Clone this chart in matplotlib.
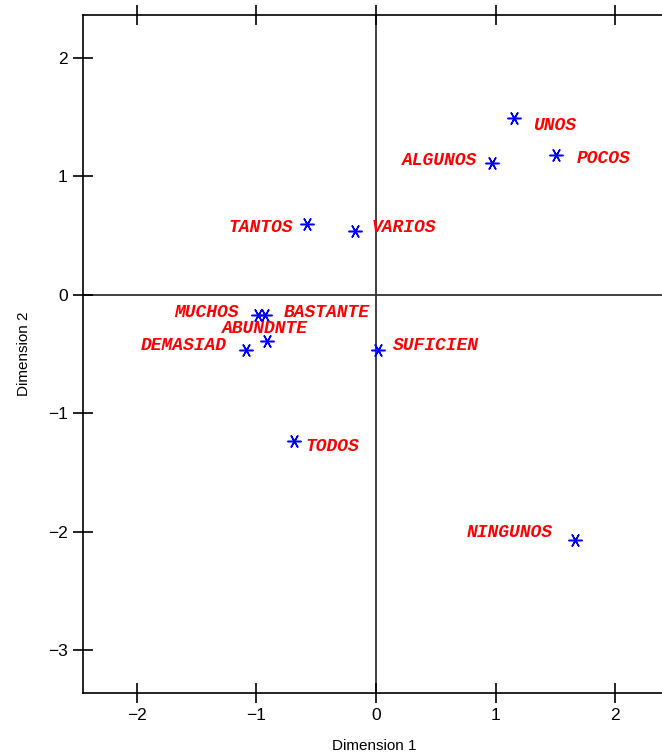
import matplotlib.pyplot as plt

# correspondence analysis coordinates for each quantifier
words = ["UNOS", "ALGUNOS", "POCOS", "TANTOS", "VARIOS", "MUCHOS",
         "BASTANTE", "ABUNDNTE", "DEMASIAD", "SUFICIEN", "TODOS", "NINGUNOS"]
dim1 = [1.15, 0.97, 1.50, -0.58, -0.18, -0.99, -0.93, -0.91, -1.09, 0.02, -0.69, 1.66]
dim2 = [1.49, 1.11, 1.18, 0.60, 0.54, -0.17, -0.17, -0.39, -0.47, -0.47, -1.23, -2.07]

# where each label sits relative to its point (pixels) and its alignment
offsets = [(19, -7), (-15, 3), (21, -4), (-14, -4), (17, 3), (-19, 2),
           (19, 2), (-2, 12), (-19, 5), (14, 5), (12, -6), (-22, 8)]
aligns = ["left", "right", "left", "right", "left", "right",
          "left", "center", "right", "left", "left", "right"]

fig = plt.figure(figsize=(6.62, 7.55), dpi=100)
ax = fig.add_axes([0.1254, 0.0821, 0.88, 0.898])

ax.axhline(0, color="#333333", lw=1.3, zorder=1)
ax.axvline(0, color="#333333", lw=1.3, zorder=1)

ax.plot(dim1, dim2, ls="none", marker=(6, 2, 90), ms=10, mew=1.1,
        color="blue", zorder=3)

for w, x, y, off, ha in zip(words, dim1, dim2, offsets, aligns):
    ax.annotate(w, (x, y), xytext=off, textcoords="offset pixels",
                ha=ha, va="center", color="red", fontsize=13,
                family="Liberation Mono", weight="bold", style="italic")

ax.set_xlim(-2.45, 2.42)
ax.set_ylim(-3.36, 2.36)
ax.set_xticks([-2, -1, 0, 1, 2])
ax.set_yticks([-3, -2, -1, 0, 1, 2])
ax.spines["right"].set_visible(False)
for s in ax.spines.values():
    s.set_linewidth(1.2)
ax.tick_params(direction="inout", length=14, width=1.2, top=True,
               labelsize=12.5, pad=4)
for lab in ax.get_xticklabels() + ax.get_yticklabels():
    lab.set_family("Liberation Sans")

ax.set_xlabel("Dimension 1", family="Liberation Sans", fontsize=11, labelpad=11)
ax.set_ylabel("Dimension 2", family="Liberation Sans", fontsize=11, labelpad=12)

fig.savefig("out.png", dpi=100)
